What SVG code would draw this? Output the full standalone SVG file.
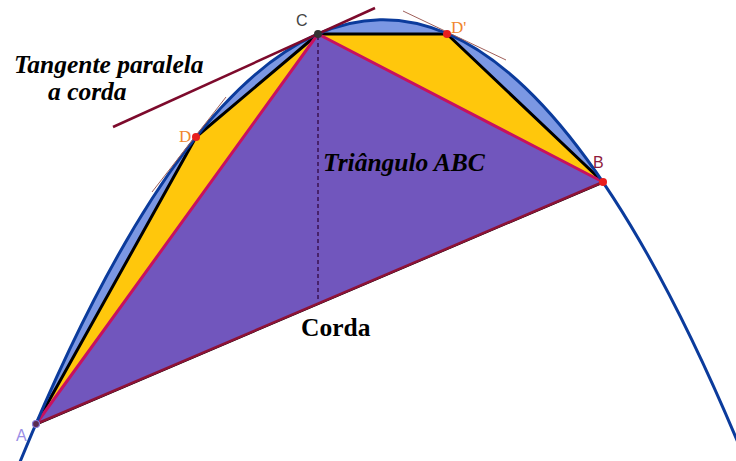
<svg xmlns="http://www.w3.org/2000/svg" width="736" height="461" viewBox="0 0 736 461">
<style>
.lbl{font-family:"Liberation Serif","Times New Roman",serif;font-weight:bold;fill:#000;font-size:25.5px}
.pt{font-family:"Liberation Sans",Arial,sans-serif;font-size:16px}
.pts{font-family:"Liberation Serif","Times New Roman",serif;font-size:17px;fill:#f0862e}
.thin{stroke:#a0605a;stroke-width:1;fill:none}
</style>
<rect width="736" height="461" fill="#fff"/>
<g id="segment">
<path d="M36,423.8 Q319.5,-236.3 603,182.2 Z" fill="#7b97e3"/>
</g>
<g id="polygon">
<path d="M36,424 L196,137 L318,34 L447,34 L603,182 Z" fill="#ffc70c" stroke="#000" stroke-width="3" stroke-linejoin="round"/>
</g>
<g id="triangle">
<path d="M36,424 L318,34 L603,182 Z" fill="#7156bd"/>
<path d="M36,424 L318,34 L603,182" fill="none" stroke="#c8115e" stroke-width="3" stroke-linejoin="round"/>
</g>
<g id="connectors">
<path d="M36,424 L603,182" stroke="#8e1236" stroke-width="2.5"/>
<path d="M20,461.9 Q380,-415 740,447.4" fill="none" stroke="#0b3b9c" stroke-width="3"/>
<path d="M113,127 L375,8" stroke="#7d0a2c" stroke-width="2.5"/>
<path class="thin" d="M152,192 L226,97"/>
<path class="thin" d="M403,11 L506,60"/>
<path d="M318,36 L318,302" stroke="#3a1050" stroke-width="1.5" stroke-dasharray="4,3"/>
</g>
<g id="pointA">
<circle cx="36" cy="424" r="3.5" fill="#5a2a50" stroke="#8a7ad8" stroke-width="1.2"/>
<text class="pt" x="16" y="441" fill="#9a8ee6">A</text>
</g>
<g id="pointB">
<circle cx="603" cy="182" r="4" fill="#e81e1e"/>
<text class="pt" x="593" y="168" fill="#8e1b3c">B</text>
</g>
<g id="pointC">
<circle cx="318" cy="34" r="4" fill="#333"/>
<text class="pt" x="296" y="26" fill="#444">C</text>
</g>
<g id="pointD">
<circle cx="196" cy="137" r="4" fill="#e81e1e"/>
<text class="pts" x="179" y="142">D</text>
</g>
<g id="pointD2">
<circle cx="447" cy="34" r="4" fill="#e81e1e"/>
<text class="pts" x="451" y="33">D'</text>
</g>
<g id="labels">
<text class="lbl" x="14" y="73" font-style="italic">Tangente paralela</text>
<text class="lbl" x="48" y="100" font-style="italic">a corda</text>
<text class="lbl" x="323" y="171" font-style="italic">Triângulo ABC</text>
<text class="lbl" x="301" y="336">Corda</text>
</g>
</svg>
